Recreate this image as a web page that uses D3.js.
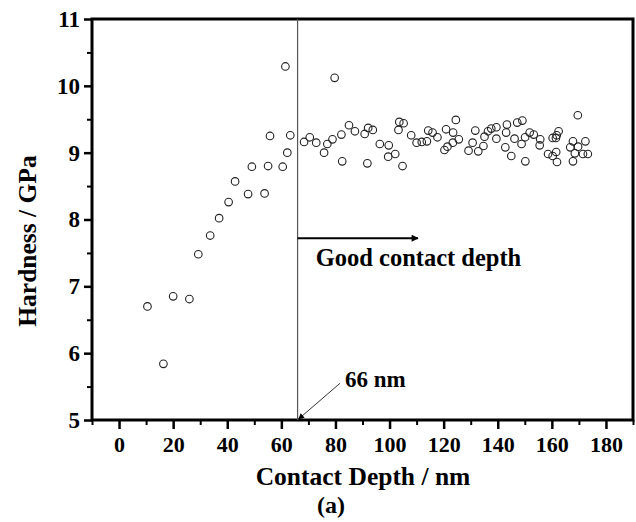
<!DOCTYPE html>
<html>
<head>
<meta charset="utf-8">
<script src="https://cdn.jsdelivr.net/npm/d3@7"></script>
<style>
  body { margin: 0; background: #fff; }
  text { font-family: "Liberation Serif", "Times New Roman", serif; font-weight: bold; }
</style>
</head>
<body>
<script>
// contact depth (nm) and hardness (GPa)
var depthVals = [10.5, 16.4, 20.0, 26.0, 29.3, 33.7, 37.0, 40.5, 42.9, 47.7, 49.1, 53.8, 55.1, 55.8, 60.5, 61.5, 62.2, 63.3,
    68.4, 70.5, 72.9, 75.8, 77.0, 78.9, 79.7, 82.2, 82.5, 85.0, 87.2, 90.8, 91.8, 92.1, 93.8, 96.4, 99.5, 99.7,
    102.1, 103.3, 103.6, 104.8, 105.2, 108.0, 110.0, 111.9, 113.8, 114.3, 115.9, 117.7, 120.3, 120.9, 121.4, 123.4,
    123.5, 124.5, 125.6, 129.2, 130.7, 131.7, 132.8, 134.7, 135.1, 136.4, 137.6, 139.5, 139.5, 142.8, 143.1, 143.4,
    145.0, 146.2, 147.2, 148.8, 149.1, 150.1, 150.2, 151.8, 153.3, 155.5, 155.7, 158.6, 160.3, 160.3, 161.5, 161.6,
    161.8, 161.9, 162.5, 166.8, 167.8, 167.8, 168.5, 169.6, 169.7, 171.5, 172.4, 173.3];
var hardnessVals = [6.70, 5.84, 6.85, 6.81, 7.48, 7.76, 8.02, 8.26, 8.57, 8.38, 8.79, 8.39, 8.80, 9.25, 8.79, 10.29, 9.00, 9.26,
    9.16, 9.23, 9.15, 9.00, 9.13, 9.20, 10.12, 9.27, 8.87, 9.41, 9.32, 9.28, 8.84, 9.37, 9.34, 9.13, 8.94, 9.11,
    8.98, 9.34, 9.46, 8.80, 9.44, 9.26, 9.15, 9.16, 9.17, 9.33, 9.30, 9.23, 9.04, 9.35, 9.09, 9.15,
    9.30, 9.49, 9.20, 9.03, 9.15, 9.33, 9.02, 9.10, 9.24, 9.32, 9.36, 9.38, 9.21, 9.08, 9.30, 9.42,
    8.95, 9.21, 9.45, 9.13, 9.48, 9.23, 8.87, 9.30, 9.27, 9.11, 9.20, 8.98, 9.22, 8.95, 9.22, 9.01,
    9.26, 8.86, 9.32, 9.08, 9.17, 8.87, 8.99, 9.56, 9.09, 8.98, 9.17, 8.98];

var xTicks = [0, 20, 40, 60, 80, 100, 120, 140, 160, 180];
var yTicks = [5, 6, 7, 8, 9, 10, 11];
var cutDepth = 66;

var margin = { top: 19, right: 3, bottom: 102, left: 92 };
var W = 636, H = 522;
var width = W - margin.left - margin.right;
var height = H - margin.top - margin.bottom;

var svg = d3.select("body").append("svg")
    .attr("width", W)
    .attr("height", H);

var g = svg.append("g")
    .attr("transform", "translate(" + margin.left + "," + margin.top + ")");

var x = d3.scaleLinear().domain([-10, 190]).range([0, width]);
var y = d3.scaleLinear().domain([5, 11]).range([height, 0]);

// arrow heads
var defs = svg.append("defs");
defs.append("marker")
    .attr("id", "bigHead")
    .attr("viewBox", "0 0 10 10")
    .attr("refX", 9).attr("refY", 5)
    .attr("markerWidth", 14).attr("markerHeight", 7)
    .attr("markerUnits", "userSpaceOnUse")
    .attr("orient", "auto")
    .append("path").attr("d", "M0,0L10,5L0,10z").attr("fill", "#000");
defs.append("marker")
    .attr("id", "smallHead")
    .attr("viewBox", "0 0 10 10")
    .attr("refX", 9).attr("refY", 5)
    .attr("markerWidth", 10).attr("markerHeight", 6)
    .attr("markerUnits", "userSpaceOnUse")
    .attr("orient", "auto")
    .append("path").attr("d", "M0,0L10,5L0,10z").attr("fill", "#000");

// minor ticks
var xMinor = d3.range(-10, 191, 10).filter(function (d) { return d % 20 != 0; });
var yMinor = d3.range(5.5, 11, 1);

g.append("g")
    .attr("transform", "translate(0," + height + ")")
    .call(d3.axisBottom(x).tickValues(xMinor).tickSize(5).tickFormat(""))
    .call(function (s) { s.select(".domain").remove(); s.selectAll("line").attr("stroke-width", 2); });
g.append("g")
    .call(d3.axisLeft(y).tickValues(yMinor).tickSize(5).tickFormat(""))
    .call(function (s) { s.select(".domain").remove(); s.selectAll("line").attr("stroke-width", 2); });

// major ticks and labels
var xAxis = g.append("g")
    .attr("transform", "translate(0," + height + ")")
    .call(d3.axisBottom(x).tickValues(xTicks).tickSize(9).tickPadding(7).tickFormat(d3.format("d")));
xAxis.select(".domain").remove();
xAxis.selectAll("line").attr("stroke-width", 2.5);
xAxis.selectAll("text").attr("font-size", 22).attr("fill", "#000")
    .attr("font-family", "Liberation Serif").attr("font-weight", "bold");

var yAxis = g.append("g")
    .call(d3.axisLeft(y).tickValues(yTicks).tickSize(8).tickPadding(4).tickFormat(d3.format("d")));
yAxis.select(".domain").remove();
yAxis.selectAll("line").attr("stroke-width", 2.5);
yAxis.selectAll("text").attr("font-size", 23).attr("fill", "#000")
    .attr("font-family", "Liberation Serif").attr("font-weight", "bold");

// frame
g.append("rect")
    .attr("width", width)
    .attr("height", height)
    .attr("fill", "none")
    .attr("stroke", "#000")
    .attr("stroke-width", 3);

// 66 nm line
g.append("line")
    .attr("x1", x(cutDepth)).attr("x2", x(cutDepth))
    .attr("y1", 0).attr("y2", height)
    .attr("stroke", "#555")
    .attr("stroke-width", 1.2);

// good contact depth arrow
g.append("line")
    .attr("x1", x(cutDepth)).attr("x2", x(110.5))
    .attr("y1", y(7.72)).attr("y2", y(7.72))
    .attr("stroke", "#000")
    .attr("stroke-width", 2)
    .attr("marker-end", "url(#bigHead)");
g.append("text")
    .attr("x", x(72.7))
    .attr("y", y(7.3))
    .attr("font-size", 24.5)
    .attr("fill", "#000")
    .text("Good contact depth");

// 66 nm pointer
g.append("line")
    .attr("x1", x(81.7)).attr("x2", x(cutDepth) + 1)
    .attr("y1", y(5.55)).attr("y2", height - 1)
    .attr("stroke", "#333")
    .attr("stroke-width", 1)
    .attr("marker-end", "url(#smallHead)");
g.append("text")
    .attr("x", x(83.5))
    .attr("y", y(5.5))
    .attr("font-size", 23)
    .attr("fill", "#000")
    .text("66 nm");

// points
g.append("g")
    .selectAll("circle")
    .data(depthVals)
    .enter()
    .append("circle")
    .attr("cx", function (d) { return x(d); })
    .attr("cy", function (d, i) { return y(hardnessVals[i]); })
    .attr("r", 3.8)
    .attr("fill", "none")
    .attr("stroke", "#222")
    .attr("stroke-width", 1.1);

// axis titles
svg.append("text")
    .attr("x", 363)
    .attr("y", 485)
    .attr("text-anchor", "middle")
    .attr("font-size", 25.5)
    .attr("fill", "#000")
    .text("Contact Depth / nm");
svg.append("text")
    .attr("x", 331)
    .attr("y", 513)
    .attr("text-anchor", "middle")
    .attr("font-size", 24)
    .attr("fill", "#000")
    .text("(a)");
svg.append("text")
    .attr("transform", "translate(36,241) rotate(-90)")
    .attr("text-anchor", "middle")
    .attr("font-size", 25.5)
    .attr("fill", "#000")
    .text("Hardness / GPa");
</script>
</body>
</html>
